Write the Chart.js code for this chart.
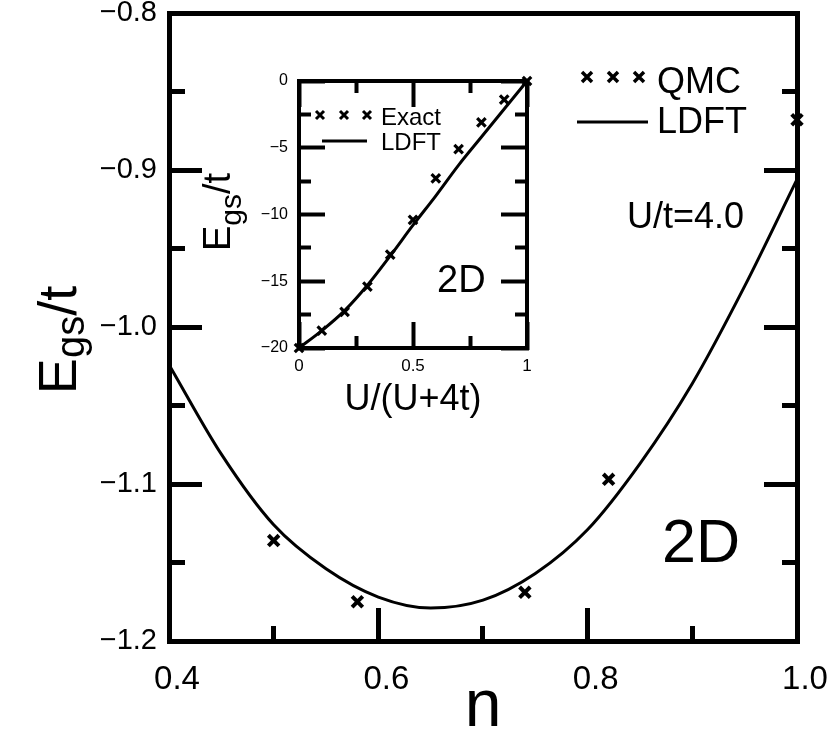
<!DOCTYPE html>
<html>
<head>
<meta charset="utf-8">
<script src="https://cdn.jsdelivr.net/npm/chart.js@4.4.1/dist/chart.umd.min.js"></script>
<style>
  html, body { margin: 0; padding: 0; background: #fff; }
  #wrap { position: relative; width: 837px; height: 736px; }
  #mainChart { position: absolute; left: 0; top: 0; }
  #insetChart { position: absolute; left: 190px; top: 60px; }
</style>
</head>
<body>
<div id="wrap">
  <canvas id="mainChart" width="837" height="736"></canvas>
  <canvas id="insetChart" width="360" height="370"></canvas>
</div>
<script>
// main panel: E_gs/t against filling n, U/t = 4.0, 2D
let ldftN = [0.40, 0.45, 0.50, 0.55, 0.60, 0.65, 0.70, 0.75, 0.80, 0.85, 0.90, 0.95, 1.00];
let ldftE = [-1.024, -1.081, -1.126, -1.154, -1.172, -1.179, -1.174, -1.157, -1.129, -1.087, -1.036, -0.974, -0.906];
let qmcN = [0.50, 0.58, 0.74, 0.82, 1.00];
let qmcE = [-1.136, -1.175, -1.169, -1.097, -0.868];

// inset: E_gs/t against U/(U+4t)
let insetU = [0, 0.1, 0.2, 0.3, 0.4, 0.5, 0.6, 0.7, 0.8, 0.9, 1.0];
let insetExact = [-20, -18.7, -17.3, -15.4, -13.0, -10.4, -7.3, -5.1, -3.1, -1.4, 0];
let insetLdft = [-20, -18.7, -17.2, -15.3, -13.1, -10.8, -8.6, -6.3, -4.2, -2.1, 0];

const FONT = '"Liberation Sans", Arial, Helvetica, sans-serif';
Chart.defaults.font.family = FONT;
Chart.defaults.color = '#000';

const MINUS = '\u2212';

function pts(xs, ys) {
    return xs.map((x, i) => ({ x: x, y: ys[i] }));
}

// fixed axis box, and no extra room asked for by the tick labels
function boxW(w) {
    return s => { s.width = w; s.paddingLeft = s.paddingRight = s.paddingTop = s.paddingBottom = 0; };
}
function boxH(h) {
    return s => { s.height = h; s.paddingLeft = s.paddingRight = s.paddingTop = s.paddingBottom = 0; };
}

// minor ticks are shortened with a dash pattern; lines on left/top start at the inner end
function dashFor(isMajor, minorLen, startsInside) {
    return c => {
        if (!c.tick || isMajor(c.tick.value)) return [];
        return startsInside ? [0, minorLen, 200] : [minorLen + 2, 200];
    };
}

function drawCross(ctx, x, y, h, w) {
    ctx.lineWidth = w;
    ctx.beginPath();
    ctx.moveTo(x - h, y - h); ctx.lineTo(x + h, y + h);
    ctx.moveTo(x - h, y + h); ctx.lineTo(x + h, y - h);
    ctx.stroke();
}

function drawYTitle(ctx, cy, bigSize, smallSize, baseBig, baseSmall) {
    ctx.save();
    ctx.translate(0, cy);
    ctx.rotate(-Math.PI / 2);
    ctx.fillStyle = '#000';
    ctx.textAlign = 'left';
    ctx.textBaseline = 'alphabetic';
    const big = bigSize + 'px ' + FONT;
    const small = smallSize + 'px ' + FONT;
    ctx.font = big;
    const wE = ctx.measureText('E').width;
    const wT = ctx.measureText('/t').width;
    ctx.font = small;
    const wS = ctx.measureText('gs').width;
    let x0 = -(wE + wS + wT) / 2;
    ctx.font = big;
    ctx.fillText('E', x0, baseBig);
    x0 += wE;
    ctx.font = small;
    ctx.fillText('gs', x0, baseSmall);
    x0 += wS;
    ctx.font = big;
    ctx.fillText('/t', x0, baseBig);
    ctx.restore();
}

const isMajorN = v => Math.round(v * 10) % 2 === 0;
const isMajorE = v => Math.round(v * 100) % 10 === 0;

const mainText = {
    id: 'mainText',
    afterDraw(chart) {
        const ctx = chart.ctx;
        ctx.save();
        ctx.fillStyle = '#000';
        ctx.strokeStyle = '#000';
        ctx.lineCap = 'butt';
        // legend
        [587, 613, 639].forEach(x => drawCross(ctx, x, 77, 5, 3.5));
        ctx.lineWidth = 3;
        ctx.beginPath();
        ctx.moveTo(577, 122); ctx.lineTo(648, 122);
        ctx.stroke();
        ctx.font = '36px ' + FONT;
        ctx.textAlign = 'left';
        ctx.textBaseline = 'alphabetic';
        ctx.fillText('QMC', 657, 93);
        ctx.fillText('LDFT', 657, 133);
        ctx.fillText('U/t=4.0', 627, 228);
        ctx.font = '61px ' + FONT;
        ctx.fillText('2D', 662, 562);
        ctx.restore();
        drawYTitle(ctx, 340, 54, 40, 76, 84);
    }
};

new Chart(document.getElementById('mainChart'), {
    type: 'scatter',
    data: {
        datasets: [
            {
                label: 'LDFT',
                data: pts(ldftN, ldftE),
                showLine: true,
                borderColor: '#000',
                borderWidth: 3,
                pointRadius: 0,
                cubicInterpolationMode: 'monotone',
            },
            {
                label: 'QMC',
                data: pts(qmcN, qmcE),
                showLine: false,
                pointStyle: 'crossRot',
                pointRadius: 7.5,
                pointBorderWidth: 4,
                pointBorderColor: '#000',
                pointBackgroundColor: '#000',
                clip: false,
            },
        ]
    },
    options: {
        responsive: false,
        animation: false,
        devicePixelRatio: 1,
        layout: { padding: { top: 13, left: 0, right: 0, bottom: 0 } },
        plugins: { legend: { display: false }, tooltip: { enabled: false } },
        scales: {
            x: {
                type: 'linear', position: 'bottom', min: 0.4, max: 1.0,
                afterFit: boxH(95),
                border: { display: true, width: 5, color: '#000' },
                grid: {
                    drawOnChartArea: false, tickLength: -33, tickWidth: 5, tickColor: '#000',
                    tickBorderDash: dashFor(isMajorN, 16, false),
                },
                ticks: {
                    stepSize: 0.1, autoSkip: false, maxRotation: 0, padding: 52, labelOffset: 8,
                    font: { size: 33 },
                    callback: v => isMajorN(v) ? (Math.round(v * 10) / 10).toFixed(1) : '',
                },
                title: { display: true, text: 'n', font: { size: 66, lineHeight: 1 }, padding: { top: 0, bottom: -5 } },
            },
            xTop: {
                type: 'linear', position: 'top', min: 0.4, max: 1.0,
                afterFit: boxH(0),
                border: { display: true, width: 5, color: '#000' },
                grid: { drawOnChartArea: false, drawTicks: false },
                ticks: { display: false },
            },
            y: {
                type: 'linear', position: 'left', min: -1.2, max: -0.8,
                afterFit: boxW(169),
                border: { display: true, width: 5, color: '#000' },
                grid: {
                    drawOnChartArea: false, tickLength: -33, tickWidth: 5, tickColor: '#000',
                    tickBorderDash: dashFor(isMajorE, 17, true),
                },
                ticks: {
                    stepSize: 0.05, autoSkip: false, padding: 45,
                    font: { size: 29 },
                    callback: v => isMajorE(v) ? MINUS + Math.abs(Math.round(v * 10) / 10).toFixed(1) : '',
                },
            },
            yRight: {
                type: 'linear', position: 'right', min: -1.2, max: -0.8,
                afterFit: boxW(40),
                border: { display: true, width: 5, color: '#000' },
                grid: {
                    drawOnChartArea: false, tickLength: -33, tickWidth: 5, tickColor: '#000',
                    tickBorderDash: dashFor(isMajorE, 16, false),
                },
                ticks: { display: false, stepSize: 0.05, autoSkip: false },
            },
        },
    },
    plugins: [mainText],
});

// ---- inset ----
const isMajorU = v => Math.round(v * 4) % 2 === 0;
const isMajorI = v => Math.round(v / 2.5) % 2 === 0;

const insetText = {
    id: 'insetText',
    afterDraw(chart) {
        const ctx = chart.ctx;
        ctx.save();
        ctx.fillStyle = '#000';
        ctx.strokeStyle = '#000';
        [130, 154, 177].forEach(x => drawCross(ctx, x, 55, 4, 3));
        ctx.lineWidth = 3;
        ctx.beginPath();
        ctx.moveTo(132, 81); ctx.lineTo(177, 81);
        ctx.stroke();
        ctx.font = '24px ' + FONT;
        ctx.textAlign = 'left';
        ctx.textBaseline = 'alphabetic';
        ctx.fillText('Exact', 191, 65);
        ctx.fillText('LDFT', 191, 90);
        ctx.font = '38px ' + FONT;
        ctx.fillText('2D', 247, 232);
        ctx.restore();
        drawYTitle(ctx, 152, 38, 30, 40, 51);
    }
};

new Chart(document.getElementById('insetChart'), {
    type: 'scatter',
    data: {
        datasets: [
            {
                label: 'LDFT',
                data: pts(insetU, insetLdft),
                showLine: true,
                borderColor: '#000',
                borderWidth: 3,
                pointRadius: 0,
                cubicInterpolationMode: 'monotone',
            },
            {
                label: 'Exact',
                data: pts(insetU, insetExact),
                showLine: false,
                pointStyle: 'crossRot',
                pointRadius: 6,
                pointBorderWidth: 3.2,
                pointBorderColor: '#000',
                pointBackgroundColor: '#000',
                clip: false,
            },
        ]
    },
    options: {
        responsive: false,
        animation: false,
        devicePixelRatio: 1,
        layout: { padding: { top: 21, left: 0, right: 0, bottom: 0 } },
        plugins: { legend: { display: false }, tooltip: { enabled: false } },
        scales: {
            x: {
                type: 'linear', position: 'bottom', min: 0, max: 1,
                afterFit: boxH(82),
                border: { display: true, width: 4, color: '#000' },
                grid: {
                    drawOnChartArea: false, tickLength: -26, tickWidth: 4, tickColor: '#000',
                    tickBorderDash: dashFor(isMajorU, 12, false),
                },
                ticks: {
                    stepSize: 0.25, autoSkip: false, maxRotation: 0, padding: 34,
                    font: { size: 17 },
                    callback: v => isMajorU(v) ? String(Math.round(v * 10) / 10) : '',
                },
                title: { display: true, text: 'U/(U+4t)', font: { size: 36, lineHeight: 1 }, padding: { top: 0, bottom: 12 } },
            },
            xTop: {
                type: 'linear', position: 'top', min: 0, max: 1,
                afterFit: boxH(0),
                border: { display: true, width: 4, color: '#000' },
                grid: {
                    drawOnChartArea: false, tickLength: -26, tickWidth: 4, tickColor: '#000',
                    tickBorderDash: dashFor(isMajorU, 14, true),
                },
                ticks: { display: false, stepSize: 0.25, autoSkip: false },
            },
            y: {
                type: 'linear', position: 'left', min: -20, max: 0,
                afterFit: boxW(109),
                border: { display: true, width: 4, color: '#000' },
                grid: {
                    drawOnChartArea: false, tickLength: -26, tickWidth: 4, tickColor: '#000',
                    tickBorderDash: dashFor(isMajorI, 14, true),
                },
                ticks: {
                    stepSize: 2.5, autoSkip: false, padding: 37,
                    font: { size: 16 },
                    callback: v => isMajorI(v) ? (v === 0 ? '0' : MINUS + Math.abs(v)) : '',
                },
            },
            yRight: {
                type: 'linear', position: 'right', min: -20, max: 0,
                afterFit: boxW(23),
                border: { display: true, width: 4, color: '#000' },
                grid: {
                    drawOnChartArea: false, tickLength: -26, tickWidth: 4, tickColor: '#000',
                    tickBorderDash: dashFor(isMajorI, 12, false),
                },
                ticks: { display: false, stepSize: 2.5, autoSkip: false },
            },
        },
    },
    plugins: [insetText],
});
</script>
</body>
</html>
